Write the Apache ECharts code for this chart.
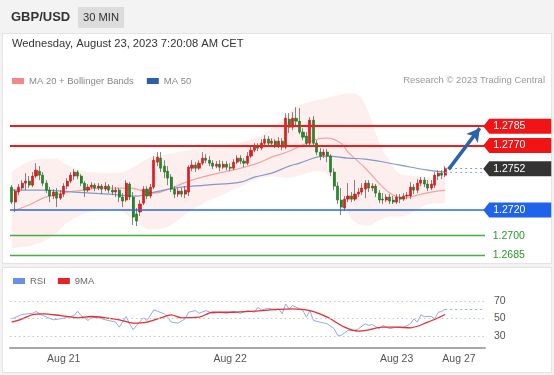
<!DOCTYPE html>
<html><head><meta charset="utf-8">
<script src="https://cdn.jsdelivr.net/npm/echarts/dist/echarts.min.js"></script>
<style>
html,body{margin:0;padding:0;background:#f3f3f3;}
#wrap{position:relative;width:554px;height:375px;overflow:hidden;}
.panel{position:absolute;background:#fff;border:1px solid #e4e4e4;box-sizing:border-box;}
#chart{position:absolute;left:0;top:0;width:554px;height:375px;}
</style></head><body>
<div id="wrap">
<div class="panel" style="left:2px;top:33px;width:550px;height:231px"></div>
<div class="panel" style="left:2px;top:267px;width:550px;height:106px"></div>
<div id="chart"></div>
</div>
<script>
// ---------- DATA ----------
const open = [
1.27377,1.27261,1.27339,1.27370,1.27408,1.27424,1.27393,1.27463,1.27501,1.27470,
1.27408,1.27354,1.27308,1.27339,1.27292,1.27323,1.27385,1.27424,1.27463,1.27494,
1.27463,1.27408,1.27354,1.27377,1.27393,1.27370,1.27385,1.27362,1.27385,1.27354,
1.27339,1.27354,1.27300,1.27277,1.27401,1.27300,1.27168,1.27184,1.27253,1.27362,
1.27308,1.27377,1.27571,1.27602,1.27540,1.27501,1.27455,1.27362,1.27323,1.27346,
1.27323,1.27339,1.27524,1.27548,1.27524,1.27563,1.27602,1.27586,1.27563,1.27540,
1.27555,1.27532,1.27555,1.27532,1.27524,1.27571,1.27602,1.27579,1.27563,1.27618,
1.27664,1.27695,1.27680,1.27718,1.27749,1.27718,1.27734,1.27695,1.27734,1.27687,
1.27904,1.27842,1.27912,1.27889,1.27804,1.27773,1.27718,1.27897,1.27718,1.27649,
1.27625,1.27649,1.27618,1.27494,1.27385,1.27277,1.27215,1.27284,1.27308,1.27284,
1.27323,1.27339,1.27362,1.27408,1.27370,1.27385,1.27331,1.27284,1.27277,1.27300,
1.27277,1.27261,1.27300,1.27284,1.27308,1.27308,1.27377,1.27354,1.27408,1.27432,
1.27401,1.27370,1.27393,1.27463,1.27486,1.27470];
const close = [
1.27261,1.27346,1.27377,1.27408,1.27424,1.27393,1.27463,1.27509,1.27470,1.27408,
1.27354,1.27308,1.27339,1.27292,1.27323,1.27385,1.27424,1.27470,1.27494,1.27463,
1.27408,1.27354,1.27377,1.27393,1.27370,1.27385,1.27362,1.27385,1.27354,1.27339,
1.27354,1.27300,1.27269,1.27408,1.27300,1.27145,1.27114,1.27246,1.27362,1.27308,
1.27377,1.27586,1.27610,1.27524,1.27494,1.27447,1.27362,1.27323,1.27346,1.27323,
1.27354,1.27532,1.27548,1.27524,1.27563,1.27602,1.27586,1.27563,1.27540,1.27555,
1.27532,1.27555,1.27532,1.27524,1.27571,1.27602,1.27579,1.27563,1.27618,1.27664,
1.27695,1.27680,1.27718,1.27749,1.27718,1.27734,1.27695,1.27734,1.27687,1.27912,
1.27842,1.27912,1.27889,1.27804,1.27765,1.27718,1.27897,1.27718,1.27649,1.27618,
1.27649,1.27618,1.27494,1.27385,1.27277,1.27222,1.27284,1.27308,1.27284,1.27323,
1.27339,1.27370,1.27408,1.27370,1.27385,1.27331,1.27277,1.27277,1.27300,1.27269,
1.27261,1.27300,1.27284,1.27308,1.27315,1.27377,1.27354,1.27408,1.27432,1.27401,
1.27370,1.27401,1.27470,1.27486,1.27470,1.27524];
const low = [
1.27246,1.27184,1.27315,1.27354,1.27354,1.27370,1.27377,1.27447,1.27432,1.27385,
1.27331,1.27261,1.27284,1.27222,1.27277,1.27300,1.27362,1.27408,1.27432,1.27439,
1.27385,1.27300,1.27339,1.27362,1.27346,1.27354,1.27323,1.27346,1.27331,1.27315,
1.27300,1.27261,1.27222,1.27261,1.27277,1.27083,1.27075,1.27153,1.27238,1.27284,
1.27292,1.27362,1.27540,1.27494,1.27447,1.27393,1.27339,1.27292,1.27300,1.27300,
1.27292,1.27308,1.27501,1.27494,1.27509,1.27548,1.27563,1.27540,1.27517,1.27524,
1.27501,1.27517,1.27509,1.27501,1.27509,1.27555,1.27555,1.27532,1.27548,1.27602,
1.27649,1.27656,1.27664,1.27703,1.27703,1.27695,1.27680,1.27680,1.27664,1.27672,
1.27796,1.27819,1.27850,1.27788,1.27742,1.27695,1.27703,1.27695,1.27625,1.27586,
1.27602,1.27571,1.27463,1.27354,1.27246,1.27160,1.27191,1.27261,1.27261,1.27269,
1.27300,1.27315,1.27292,1.27339,1.27346,1.27300,1.27253,1.27246,1.27261,1.27246,
1.27246,1.27246,1.27253,1.27269,1.27284,1.27284,1.27323,1.27331,1.27385,1.27377,
1.27346,1.27354,1.27370,1.27432,1.27439,1.27455];
const high = [
1.27393,1.27362,1.27401,1.27432,1.27486,1.27463,1.27494,1.27563,1.27540,1.27494,
1.27432,1.27377,1.27362,1.27370,1.27354,1.27408,1.27447,1.27494,1.27517,1.27509,
1.27478,1.27424,1.27401,1.27416,1.27408,1.27408,1.27401,1.27416,1.27401,1.27393,
1.27377,1.27370,1.27331,1.27432,1.27416,1.27339,1.27215,1.27277,1.27385,1.27385,
1.27401,1.27618,1.27649,1.27649,1.27586,1.27540,1.27478,1.27385,1.27370,1.27370,
1.27385,1.27548,1.27586,1.27571,1.27586,1.27649,1.27633,1.27618,1.27586,1.27579,
1.27586,1.27579,1.27579,1.27563,1.27594,1.27625,1.27625,1.27602,1.27649,1.27695,
1.27718,1.27718,1.27749,1.27780,1.27773,1.27757,1.27749,1.27765,1.27757,1.27951,
1.27951,1.27959,1.27997,1.27990,1.27834,1.27804,1.27920,1.27928,1.27742,1.27680,
1.27672,1.27672,1.27633,1.27524,1.27416,1.27370,1.27308,1.27408,1.27339,1.27432,
1.27370,1.27408,1.27432,1.27432,1.27408,1.27401,1.27354,1.27331,1.27323,1.27323,
1.27308,1.27323,1.27323,1.27331,1.27339,1.27416,1.27401,1.27439,1.27455,1.27455,
1.27432,1.27432,1.27494,1.27509,1.27509,1.27540];

// moving averages (read at candle indices)
const ma20Idx = [1,5,9,11,16,21,25,31,34,37,41,46,51,56,61,66,71,75,80,85,88,91,95,97,102,107,110,113,117,121,125];
const ma20 = [1.27199,1.27238,1.27292,1.27308,1.27339,1.27354,1.27370,1.27370,1.27370,1.27354,1.27331,1.27370,1.27424,1.27463,1.27494,1.27524,1.27563,1.27610,1.27656,1.27718,1.27749,1.27757,1.27718,1.27649,1.27524,1.27377,1.27315,1.27292,1.27315,1.27339,1.27354];
const ma50Idx = [0,8,18,28,36,40,47,56,66,70,75,80,83,88,91,97,102,112,120,125];
const ma50 = [1.27354,1.27354,1.27339,1.27323,1.27308,1.27331,1.27370,1.27393,1.27416,1.27455,1.27486,1.27540,1.27563,1.27610,1.27618,1.27602,1.27594,1.27548,1.27509,1.27494];
const bbIdx = [0,6,12,16,22,30,35,40,45,51,56,61,66,71,75,80,83,88,93,97,100,103,106,109,112,117,121,125];
const bbUpper = [1.27494,1.27586,1.27602,1.27548,1.27494,1.27486,1.27532,1.27610,1.27635,1.27664,1.27680,1.27703,1.27726,1.27765,1.27834,1.27959,1.28013,1.28052,1.28083,1.28106,1.28090,1.27950,1.27720,1.27580,1.27480,1.27463,1.27447,1.27470];
const bbLower = [1.26904,1.26926,1.27000,1.27100,1.27180,1.27210,1.27130,1.27050,1.27070,1.27184,1.27260,1.27320,1.27380,1.27440,1.27460,1.27450,1.27470,1.27500,1.27420,1.27170,1.27090,1.27080,1.27120,1.27150,1.27150,1.27200,1.27250,1.27250];

// RSI panel
const rsiIdx = [0,3,6,7,9,12,14,16,18,19,20,22,23,25,27,30,31,33,34,35,36,38,39,41,42,44,45,46,48,50,51,53,54,56,58,60,62,64,66,68,70,71,72,74,75,77,78,79,80,81,82,84,85,86,87,89,91,93,94,95,97,99,100,102,103,104,106,107,109,111,113,115,116,117,118,119,121,122,123,124,125];
const rsi = [49.7,54.6,56,58,53.4,48.5,49.6,51.5,53.4,58.4,53.4,47.7,51.5,50.8,48.5,45.8,40,52.3,43.9,37,42,50.8,47.7,59.9,58.4,55.4,51.5,45.8,44.7,49.6,57.2,59.1,56,59.1,56,57.2,56,58.4,56,59.1,57.2,62.9,59.9,61.8,61,61,55.4,66.8,61,64.9,63,59.1,51.5,59.1,47.7,45.8,43.9,38.2,30.6,30.6,36.3,36.3,38.2,43.9,42,43.1,38.2,42,38.2,40,40,43.9,49.6,45.8,54.2,52.3,52.3,49.6,57.2,58,61];
const rsiMaIdx = [0,3,6,9,14,19,23,27,31,35,39,43,46,49,54,58,64,70,77,81,86,91,96,100,103,107,111,115,120,123,125];
const rsiMa = [45.8,49.6,54.6,55.4,53.4,50.8,52.3,50.8,48.5,44.7,45.8,50.8,54.2,50.8,51.5,57.2,57.2,58.4,60.5,61,59.1,51.5,40,35.5,37,40,40,39.3,45.8,50.8,54.6];
const rsiTicks = [30, 50, 70];

// levels
const resistLevels = [1.2785, 1.2770];
const pivotLevel = 1.2720;
const supportLevels = [1.2700, 1.2685];
const lastPrice = 1.2752;
const arrowFrom = [126, 1.27515];
const arrowTo = [135, 1.27835];

// x axis: 30-min slots, first slot Aug 20 16:30
const slotCount = 137;
const tickIdx = [15, 63, 111, 129];
const tickLabels = ['Aug 21', 'Aug 22', 'Aug 23', 'Aug 27'];
const categories = [];
for (let i = 0; i < slotCount; i++) {
  const d = new Date(Date.UTC(2023, 7, 20, 16, 30) + i * 1800000);
  categories.push(d.toISOString().slice(5, 16));
}

// ---------- BUILD ----------
const zip = (a, b) => a.map((x, k) => [x, b[k]]);
const lastIdx = open.length - 1;
const tagIdx = slotCount - 1;
const candleFull = open.map((o, i) => [o, close[i], low[i], high[i]]);
const candleBody = open.map((o, i) => [o, close[i], Math.min(o, close[i]), Math.max(o, close[i])]);
const bbSpan = bbIdx.map((x, k) => [x, +(bbUpper[k] - bbLower[k]).toFixed(5)]);
const FONT = '"Liberation Sans", Arial, sans-serif';

const tagPath = 'path://M0,7.5L6,0L68,0L68,15L6,15Z';
const tags = [
  {v: resistLevels[0], c: '#f21414'},
  {v: resistLevels[1], c: '#f21414'},
  {v: lastPrice, c: '#333333'},
  {v: pivotLevel, c: '#1f63ea'}
];
const fullLine = (v, style) => [
  {coord: [0, v], x: 10, lineStyle: style},
  {coord: [tagIdx, v], x: 485}
];

const tagPoints = tags.map(t => ({coord: [tagIdx, t.v], symbol: tagPath, symbolSize: [68, 15], symbolOffset: [34, 0],
  itemStyle: {color: t.c},
  label: {show: true, position: 'inside', align: 'left', offset: [-24, 0], formatter: t.v.toFixed(4), color: '#fff', fontSize: 10.5, fontFamily: FONT}}));
const supportPoints = supportLevels.map(v => ({coord: [tagIdx, v], symbol: 'rect', symbolSize: 1,
  itemStyle: {color: 'rgba(0,0,0,0)'},
  label: {show: true, position: 'right', distance: 9, formatter: v.toFixed(4), color: '#2a962a', fontSize: 10.5, fontFamily: FONT}}));

const chart = echarts.init(document.getElementById('chart'), null, {renderer: 'canvas'});
const option = {
  animation: false,
  backgroundColor: 'transparent',
  textStyle: {fontFamily: FONT},
  title: [
    {text: 'GBP/USD', left: 11, top: 11, padding: 0, textStyle: {fontSize: 13, fontWeight: 'bold', color: '#333', fontFamily: FONT}},
    {text: '30 MIN', left: 78, top: 7, padding: [4, 5], backgroundColor: '#dcdcdc', textStyle: {fontSize: 11.2, lineHeight: 13, fontWeight: 'normal', color: '#333', fontFamily: FONT}},
    {text: 'Wednesday, August 23, 2023 7:20:08 AM CET', left: 12, top: 38.5, padding: 0, textStyle: {fontSize: 11.2, fontWeight: 'normal', color: '#333', fontFamily: FONT}},
    {text: 'Research \u00A9 2023 Trading Central', right: 9, top: 75.5, padding: 0, textStyle: {fontSize: 9.5, fontWeight: 'normal', color: '#999', fontFamily: FONT}}
  ],
  legend: [
    {left: 12, top: 76, padding: 0, itemWidth: 12, itemHeight: 6, itemGap: 13, icon: 'rect', selectedMode: false,
     textStyle: {fontSize: 9.5, color: '#888', fontFamily: FONT},
     data: [{name: 'MA 20 + Bollinger Bands', itemStyle: {color: '#f28888'}}, {name: 'MA 50', itemStyle: {color: '#2d5ea8'}}]},
    {left: 13, top: 276, padding: 0, itemWidth: 12, itemHeight: 6, itemGap: 12, icon: 'rect', selectedMode: false,
     textStyle: {fontSize: 9.5, color: '#666', fontFamily: FONT},
     data: [{name: 'RSI', itemStyle: {color: '#6a8fe8'}}, {name: '9MA', itemStyle: {color: '#ea2227'}}]}
  ],
  grid: [
    {left: 10, right: 69, top: 94, height: 167.5, outerBoundsMode: 'none'},
    {left: 10, right: 69, top: 289, height: 59, outerBoundsMode: 'none'}
  ],
  xAxis: [
    {gridIndex: 0, type: 'category', data: categories, boundaryGap: true, show: false},
    {gridIndex: 1, type: 'category', data: categories, boundaryGap: true,
     axisLine: {show: true, lineStyle: {color: '#a8a8a8', width: 2}},
     axisTick: {show: false},
     axisLabel: {interval: (i) => tickIdx.includes(i), formatter: (v, i) => { const k = tickIdx.indexOf(i); return k >= 0 ? tickLabels[k] : ''; },
                 color: '#555', fontSize: 10.5, margin: 6, fontFamily: FONT}}
  ],
  yAxis: [
    {gridIndex: 0, type: 'value', min: 1.268, max: 1.281, show: false, splitLine: {show: false}},
    {gridIndex: 1, type: 'value', min: 16, max: 84, interval: 2, position: 'right',
     axisLine: {show: false}, axisTick: {show: false}, splitLine: {show: false},
     axisLabel: {formatter: (v) => rsiTicks.includes(Math.round(v)) && Math.abs(v - Math.round(v)) < 1e-6 ? String(Math.round(v)) : '',
                 color: '#555', fontSize: 10.5, margin: 9, fontFamily: FONT}}
  ],
  series: [
    {name: 'bbLow', type: 'line', xAxisIndex: 0, yAxisIndex: 0, data: zip(bbIdx, bbLower), stack: 'bb',
     smooth: 0.4, symbol: 'none', silent: true, lineStyle: {opacity: 0}, z: 1},
    {name: 'bbBand', type: 'line', xAxisIndex: 0, yAxisIndex: 0, data: bbSpan, stack: 'bb',
     smooth: 0.4, symbol: 'none', silent: true, lineStyle: {opacity: 0},
     areaStyle: {color: 'rgba(247,150,150,0.22)'}, z: 1},
    {name: 'MA 20 + Bollinger Bands', type: 'line', xAxisIndex: 0, yAxisIndex: 0, data: zip(ma20Idx, ma20),
     smooth: 0.4, symbol: 'none', silent: true, color: '#f28888', lineStyle: {color: '#f3a3a3', width: 1.2}, z: 2},
    {name: 'MA 50', type: 'line', xAxisIndex: 0, yAxisIndex: 0, data: zip(ma50Idx, ma50),
     smooth: 0.4, symbol: 'none', silent: true, color: '#2d5ea8', lineStyle: {color: '#8099c9', width: 1.2}, z: 2},
    {name: 'wicks', type: 'candlestick', xAxisIndex: 0, yAxisIndex: 0, data: candleFull, barWidth: 1,
     silent: true, z: 3,
     itemStyle: {color: '#666', color0: '#666', borderColor: '#666', borderColor0: '#666', borderWidth: 0.8}},
    {name: 'bodies', type: 'candlestick', xAxisIndex: 0, yAxisIndex: 0, data: candleBody, barWidth: 2.6,
     silent: true, z: 4,
     itemStyle: {color: '#ea1a1c', color0: '#1f8c24', borderColor: '#c81214', borderColor0: '#17701b', borderWidth: 0.6},
     markLine: {silent: true, symbol: ['none', 'none'], animation: false, label: {show: false},
       data: [
         fullLine(resistLevels[0], {color: '#f01c1c', width: 2, type: 'solid'}),
         fullLine(resistLevels[1], {color: '#f01c1c', width: 2, type: 'solid'}),
         fullLine(pivotLevel, {color: '#2a6ae6', width: 1.5, type: 'solid'}),
         fullLine(supportLevels[0], {color: '#45ad45', width: 1.3, type: 'solid'}),
         fullLine(supportLevels[1], {color: '#45ad45', width: 1.3, type: 'solid'}),
         [{coord: [lastIdx, lastPrice], lineStyle: {color: '#999', width: 1, type: [2, 3]}}, {coord: [tagIdx, lastPrice]}],
         [{coord: [lastIdx, ma50[ma50.length - 1]], lineStyle: {color: '#8aa6ee', width: 1, type: [2, 3]}}, {coord: [tagIdx, ma50[ma50.length - 1]]}],
         [{coord: arrowFrom, symbol: 'none', lineStyle: {color: '#2a62ad', width: 3.5, type: 'solid'}},
          {coord: arrowTo, symbol: 'arrow', symbolSize: [11, 13]}]
       ]}},
    {name: 'tags', type: 'line', xAxisIndex: 0, yAxisIndex: 0, data: [], z: 8, silent: true,
     markPoint: {silent: true, animation: false, data: tagPoints.concat(supportPoints)}},
    {name: 'RSI', type: 'line', xAxisIndex: 1, yAxisIndex: 1, data: zip(rsiIdx, rsi), symbol: 'none', silent: true,
     color: '#6a8fe8', lineStyle: {color: '#8eaaf0', width: 1}, z: 3,
     markLine: {silent: true, symbol: ['none', 'none'], animation: false, label: {show: false},
       data: [
         ...rsiTicks.map(v => ({yAxis: v, lineStyle: {color: '#c6c6c6', width: 1, type: [1.5, 3]}})),
         [{coord: [lastIdx, rsi[rsi.length - 1]], lineStyle: {color: '#8eaaf0', width: 1, type: [2, 3]}}, {coord: [tagIdx, rsi[rsi.length - 1]]}]
       ]}},
    {name: '9MA', type: 'line', xAxisIndex: 1, yAxisIndex: 1, data: zip(rsiMaIdx, rsiMa), symbol: 'none', silent: true,
     smooth: 0.3, color: '#ea2227', lineStyle: {color: '#ee2b2b', width: 1.3}, z: 4}
  ]
};
chart.setOption(option);
</script>
</body></html>
